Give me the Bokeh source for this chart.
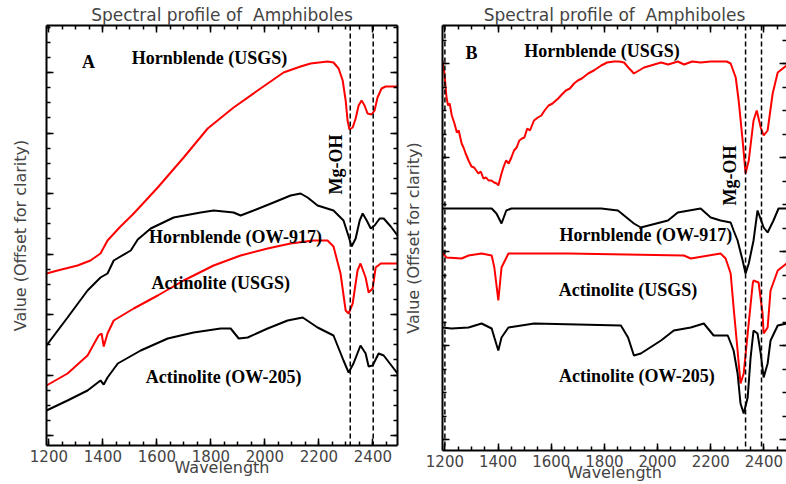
from bokeh.plotting import figure
from bokeh.models import Range1d, LinearAxis, FixedTicker, Span, Label
from bokeh.layouts import row
from bokeh.embed import file_html
from bokeh.resources import INLINE

# ---------------- Panel A data (wavelength nm, offset value) ----------------
a_hbl_usgs_wl = [1191, 1232, 1306, 1354, 1391, 1417, 1465, 1514, 1603, 1699, 1788, 1884, 1973, 2069, 2132,
                 2169, 2232, 2254, 2273, 2288, 2299, 2306, 2313, 2325, 2336, 2347, 2358, 2369, 2380, 2395,
                 2406, 2417, 2432, 2447, 2491]
a_hbl_usgs_val = [172, 175, 180, 185, 192, 205, 219, 232, 258, 288, 317, 338, 355, 373, 379,
                  382, 384, 383, 377, 365, 345, 325, 316, 318, 327, 340, 345, 340, 332, 331,
                  335, 348, 357, 359, 359]

a_hbl_ow_wl = [1191, 1269, 1343, 1391, 1417, 1440, 1503, 1529, 1577, 1662, 1762, 1810, 1884, 1910, 1958,
               2032, 2095, 2132, 2158, 2195, 2254, 2291, 2310, 2321, 2336, 2351, 2362, 2377, 2392, 2406,
               2425, 2440, 2466, 2491]
a_hbl_ow_val = [100, 128, 155, 168, 172, 185, 195, 206, 217, 228, 233, 235, 233, 230, 235,
                243, 250, 252, 248, 240, 235, 225, 209, 199, 207, 225, 232, 225, 217, 220,
                227, 227, 219, 210]

a_act_usgs_wl = [1191, 1269, 1343, 1384, 1395, 1403, 1417, 1440, 1514, 1603, 1699, 1810, 1910, 2010, 2095,
                 2180, 2232, 2254, 2280, 2299, 2310, 2325, 2343, 2354, 2373, 2384, 2399, 2410, 2429, 2491]
a_act_usgs_val = [60, 72, 90, 110, 112, 99, 112, 125, 137, 150, 165, 180, 190, 197, 202,
                  205, 205, 199, 172, 135, 132, 142, 175, 182, 168, 153, 157, 178, 182, 182]

a_act_ow_wl = [1191, 1269, 1343, 1391, 1403, 1417, 1455, 1540, 1640, 1736, 1836, 1873, 1903, 1936, 2010,
               2084, 2140, 2195, 2254, 2291, 2310, 2328, 2354, 2373, 2384, 2399, 2421, 2440, 2491]
a_act_ow_val = [35, 45, 55, 65, 61, 68, 82, 95, 107, 113, 117, 117, 107, 108, 117,
                125, 128, 118, 110, 85, 73, 82, 100, 92, 79, 80, 92, 90, 72]

a_dashes = [2316, 2401]

# ---------------- Panel B data ----------------
b_hbl_usgs_wl = [1190, 1198, 1206, 1212, 1218, 1226, 1236, 1245, 1252, 1263, 1270, 1278, 1289, 1300, 1310,
                 1326, 1335, 1345, 1355, 1364, 1375, 1385, 1395, 1401, 1413, 1420, 1430, 1440, 1450, 1460,
                 1470, 1480, 1490, 1499, 1510, 1520, 1535, 1550, 1563, 1575, 1590, 1605, 1626, 1640, 1655,
                 1670, 1686, 1700, 1715, 1739, 1760, 1788, 1810, 1836, 1855, 1874, 1890, 1911, 1930, 1949,
                 1975, 2013, 2040, 2076, 2100, 2130, 2162, 2200, 2237, 2260, 2275, 2294, 2305, 2320, 2331,
                 2343, 2361, 2373, 2388, 2399, 2414, 2433, 2452, 2485]
b_hbl_usgs_val = [390, 378, 353, 345, 347, 335, 327, 318, 320, 307, 303, 297, 290, 284, 283,
                  277, 279, 272, 273, 270, 270, 268, 267, 265, 277, 283, 290, 287, 293, 300,
                  303, 310, 312, 313, 322, 320, 330, 333, 335, 340, 345, 347, 352, 356, 360,
                  362, 367, 370, 372, 377, 380, 385, 388, 389, 389, 388, 383, 377, 380, 383,
                  385, 388, 386, 389, 386, 389, 388, 389, 389, 389, 387, 373, 350, 310, 277,
                  290, 330, 340, 323, 315, 320, 357, 378, 385]

b_hbl_ow_wl = [1190, 1289, 1376, 1394, 1413, 1431, 1450, 1788, 1851, 1911, 1937, 2039, 2076, 2162, 2200,
               2237, 2275, 2286, 2301, 2320, 2331, 2343, 2361, 2376, 2399, 2414, 2436, 2455, 2485]
b_hbl_ow_val = [242, 242, 242, 237, 227, 240, 242, 242, 240, 227, 223, 230, 238, 242, 233,
                230, 228, 220, 210, 190, 177, 187, 210, 240, 223, 218, 230, 242, 242]

b_act_usgs_wl = [1190, 1206, 1263, 1289, 1338, 1376, 1386, 1401, 1413, 1439, 1664, 2099, 2125, 2237, 2256,
                 2275, 2286, 2301, 2312, 2324, 2339, 2358, 2361, 2380, 2395, 2399, 2414, 2425, 2452, 2485]
b_act_usgs_val = [198, 193, 192, 195, 197, 195, 183, 150, 183, 197, 197, 195, 192, 197, 192,
                  177, 143, 100, 67, 77, 117, 167, 170, 168, 137, 117, 123, 160, 180, 187]

b_act_ow_wl = [1190, 1225, 1289, 1338, 1376, 1386, 1401, 1413, 1439, 1536, 1862, 1889, 1911, 1937, 2013,
               2061, 2125, 2174, 2211, 2264, 2286, 2301, 2312, 2324, 2339, 2350, 2361, 2376, 2388, 2399,
               2414, 2425, 2452, 2485]
b_act_ow_val = [123, 122, 123, 127, 122, 113, 100, 113, 123, 127, 125, 113, 95, 97, 110,
                120, 123, 127, 115, 115, 100, 77, 47, 37, 53, 93, 120, 117, 97, 73,
                87, 110, 125, 127]

b_dashes = [1200, 2331, 2391]

x_major = [1200, 1400, 1600, 1800, 2000, 2200, 2400]
x_minor = list(range(1200, 2500, 50))

GREY = "#444444"
TFONT = "DejaVu Sans"
SERIF = "Liberation Serif"
TITLE = "Spectral profile of \u00a0Amphiboles"


def style_axis(ax, ticker, labels, line=True):
    ax.ticker = ticker
    ax.axis_line_width = 2
    ax.axis_line_color = "black" if line else None
    ax.major_tick_in = 7
    ax.major_tick_out = 0
    ax.minor_tick_in = 4
    ax.minor_tick_out = 0
    ax.major_tick_line_width = 1.5
    ax.minor_tick_line_width = 1.5
    ax.major_tick_line_color = "black"
    ax.minor_tick_line_color = "black"
    if labels:
        ax.major_label_text_font = TFONT
        ax.major_label_text_font_size = "15px"
        ax.major_label_text_color = GREY
        ax.major_label_standoff = 4
    else:
        ax.major_label_text_font_size = "1px"
        ax.major_label_text_color = None
        ax.major_label_standoff = 0


def make_panel(width, height, x_end, y_end, mbl, mbr, yticks, yminor, ylabel_standoff, right_line=True):
    p = figure(width=width, height=height, x_range=Range1d(1191, x_end), y_range=Range1d(0, y_end),
               output_backend="svg", toolbar_location=None,
               min_border_left=mbl, min_border_right=mbr, min_border_top=25, min_border_bottom=34,
               title=TITLE)
    p.grid.visible = False
    p.outline_line_color = None
    p.background_fill_color = "white"
    p.border_fill_color = "white"
    p.title.align = "center"
    p.title.text_font = TFONT
    p.title.text_font_size = "17px"
    p.title.text_font_style = "normal"
    p.title.text_color = GREY
    p.title.standoff = 1

    xt = FixedTicker(ticks=x_major, minor_ticks=x_minor)
    yt = FixedTicker(ticks=yticks, minor_ticks=yminor)
    style_axis(p.xaxis[0], xt, True)
    p.xaxis[0].axis_label = "Wavelength"
    p.xaxis[0].axis_label_text_font = TFONT
    p.xaxis[0].axis_label_text_font_size = "16px"
    p.xaxis[0].axis_label_text_font_style = "normal"
    p.xaxis[0].axis_label_text_color = GREY
    p.xaxis[0].axis_label_standoff = -7

    style_axis(p.yaxis[0], yt, False)
    p.yaxis[0].axis_label = "Value (Offset for clarity)"
    p.yaxis[0].axis_label_text_font = TFONT
    p.yaxis[0].axis_label_text_font_size = "16px"
    p.yaxis[0].axis_label_text_font_style = "normal"
    p.yaxis[0].axis_label_text_color = GREY
    p.yaxis[0].axis_label_standoff = ylabel_standoff

    top = LinearAxis()
    style_axis(top, FixedTicker(ticks=x_major, minor_ticks=x_minor), False)
    p.add_layout(top, "above")
    right = LinearAxis()
    style_axis(right, FixedTicker(ticks=yticks, minor_ticks=yminor), False, line=right_line)
    p.add_layout(right, "right")
    return p


def add_label(p, x, y, text, angle=0):
    p.add_layout(Label(x=x, y=y, text=text, text_font=SERIF, text_font_style="bold",
                       text_font_size="18px", text_color="black", text_align="center",
                       text_baseline="middle", angle=angle, angle_units="deg"))


# ---------------- Panel A ----------------
a_major = [10 + 60.5 * k for k in range(7)]
a_minor = [10 + 15.125 * k for k in range(28)]
pA = make_panel(400, 479, 2491, 420, 46, 3, a_major, a_minor, 17)
for d in a_dashes:
    pA.add_layout(Span(location=d, dimension="height", line_color="black", line_width=1.5, line_dash="5 3"))
pA.line(a_hbl_usgs_wl, a_hbl_usgs_val, line_color="#ff0000", line_width=2)
pA.line(a_hbl_ow_wl, a_hbl_ow_val, line_color="black", line_width=2)
pA.line(a_act_usgs_wl, a_act_usgs_val, line_color="#ff0000", line_width=2)
pA.line(a_act_ow_wl, a_act_ow_val, line_color="black", line_width=2)
add_label(pA, 1347, 384, "A")
add_label(pA, 1795, 388, "Hornblende (USGS)")
add_label(pA, 1891, 209, "Hornblende (OW-917)")
add_label(pA, 1836, 163, "Actinolite (USGS)")
add_label(pA, 1847, 69, "Actinolite (OW-205)")
add_label(pA, 2262, 281, "Mg-OH", angle=90)

# ---------------- Panel B ----------------
b_major = [11 + 94 * k for k in range(5)]
b_minor = [11 + 23.5 * k for k in range(18)]
pB = make_panel(386, 484, 2485, 425, 41, 0, b_major, b_minor, 20, right_line=False)
for d in b_dashes:
    pB.add_layout(Span(location=d, dimension="height", line_color="black", line_width=1.5, line_dash="5 3"))
pB.line(b_hbl_usgs_wl, b_hbl_usgs_val, line_color="#ff0000", line_width=2)
pB.line(b_hbl_ow_wl, b_hbl_ow_val, line_color="black", line_width=2)
pB.line(b_act_usgs_wl, b_act_usgs_val, line_color="#ff0000", line_width=2)
pB.line(b_act_ow_wl, b_act_ow_val, line_color="black", line_width=2)
add_label(pB, 1300, 398, "B")
add_label(pB, 1791, 400, "Hornblende (USGS)")
add_label(pB, 1956, 216, "Hornblende (OW-917)")
add_label(pB, 1889, 161, "Actinolite (USGS)")
add_label(pB, 1922, 75, "Actinolite (OW-205)")
add_label(pB, 2271, 275, "Mg-OH", angle=90)

layout = row(pA, pB)
open("out.html", "w").write(file_html(layout, INLINE))
